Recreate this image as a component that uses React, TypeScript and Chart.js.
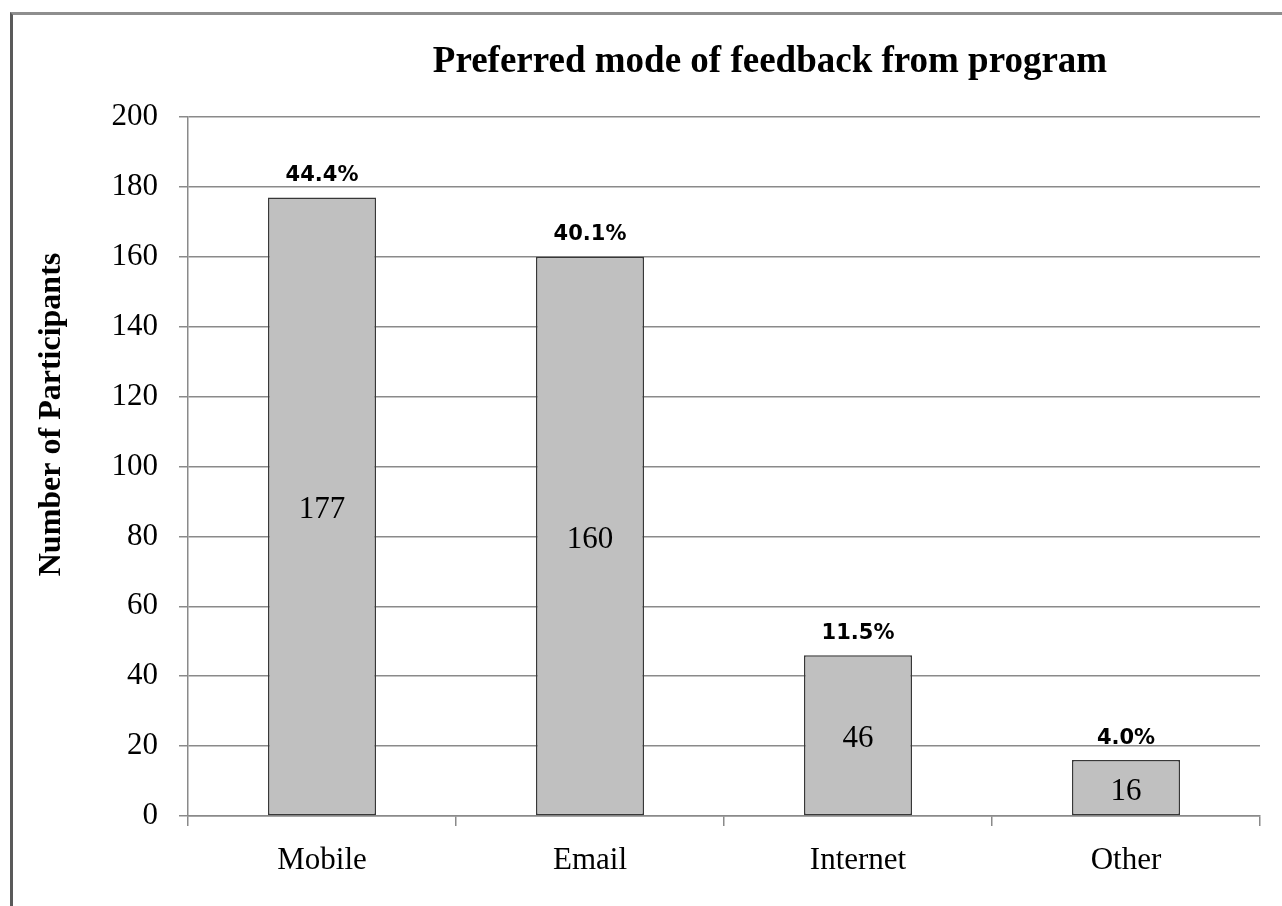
import React, { useEffect, useRef } from 'react';
import { Chart, registerables } from 'chart.js';

Chart.register(...registerables);

const categories = ['Mobile', 'Email', 'Internet', 'Other'];
const participants = [177, 160, 46, 16];
const percentLabels = ['44.4%', '40.1%', '11.5%', '4.0%'];
const yMin = 0;
const yMax = 200;
const yStep = 20;
const chartTitle = 'Preferred mode of feedback from program';
const yAxisTitle = 'Number of Participants';

const SERIF = '"Liberation Serif", "Times New Roman", serif';
const SANS = '"DejaVu Sans", Verdana, sans-serif';

const labelsPlugin = {
  id: 'customLabels',
  afterDatasetsDraw(chart: any) {
    const ctx = chart.ctx;
    const meta = chart.getDatasetMeta(0);
    ctx.save();
    ctx.textAlign = 'center';
    ctx.textBaseline = 'middle';
    meta.data.forEach((bar: any, i: number) => {
      const mid = (bar.y + bar.base) / 2;
      ctx.fillStyle = '#000';
      ctx.font = `31px ${SERIF}`;
      ctx.fillText(String(participants[i]), bar.x, mid + 4);
      ctx.font = `bold 21px ${SANS}`;
      ctx.fillText(percentLabels[i], bar.x, bar.y - 22);
    });
    ctx.restore();
  },
  afterDraw(chart: any) {
    const ctx = chart.ctx;
    const area = chart.chartArea;
    ctx.save();
    ctx.fillStyle = '#000';
    ctx.textAlign = 'center';
    ctx.textBaseline = 'alphabetic';
    ctx.font = `bold 37px ${SERIF}`;
    ctx.fillText(chartTitle, area.left + (area.right - area.left) / 2 + 46, 72);
    ctx.translate(52, area.top + (area.bottom - area.top) / 2 - 52);
    ctx.rotate(-Math.PI / 2);
    ctx.textBaseline = 'middle';
    ctx.font = `bold 32px ${SERIF}`;
    ctx.fillText(yAxisTitle, 0, 0);
    ctx.restore();
  },
};

export default function App() {
  const canvasRef = useRef<HTMLCanvasElement | null>(null);

  useEffect(() => {
    if (!canvasRef.current) return;
    const chart = new Chart(canvasRef.current, {
      type: 'bar',
      data: {
        labels: categories,
        datasets: [
          {
            data: participants,
            backgroundColor: '#C0C0C0',
            borderColor: '#383838',
            borderWidth: 1.5,
            borderSkipped: false,
            barPercentage: 0.403,
            categoryPercentage: 1,
          },
        ],
      },
      options: {
        responsive: false,
        animation: false,
        devicePixelRatio: 1,
        layout: { padding: { left: 0, top: 117, right: 22, bottom: 0 } },
        plugins: {
          legend: { display: false },
          title: { display: false },
          tooltip: { enabled: false },
        },
        scales: {
          x: {
            grid: {
              display: true,
              offset: true,
              drawOnChartArea: false,
              drawTicks: true,
              tickLength: 10,
              color: '#8a8a8a',
              lineWidth: 1.5,
            },
            border: { display: true, color: '#8a8a8a', width: 1.5 },
            ticks: {
              color: '#000',
              font: { family: SERIF, size: 31 },
              padding: 16,
            },
            afterFit(scale: any) {
              scale.height = 90;
            },
          },
          y: {
            min: yMin,
            max: yMax,
            grid: {
              color: '#8a8a8a',
              lineWidth: 1.5,
              tickLength: 9,
              drawTicks: true,
            },
            border: { display: true, color: '#8a8a8a', width: 1.5 },
            ticks: {
              stepSize: yStep,
              color: '#000',
              font: { family: SERIF, size: 31 },
              padding: 21,
            },
            afterFit(scale: any) {
              scale.width = 188;
            },
          },
        },
      },
      plugins: [labelsPlugin],
    });
    return () => chart.destroy();
  }, []);

  return (
    <div style={{ position: 'fixed', left: 0, top: 0, width: 1282, height: 906, background: '#fff', overflow: 'hidden' }}>
      <div
        style={{
          position: 'absolute',
          left: 10,
          top: 12,
          width: 1300,
          height: 920,
          borderLeft: '3px solid #5a5a5a',
          borderTop: '3px solid #8e8e8e',
          boxSizing: 'border-box',
        }}
      />
      <canvas ref={canvasRef} width={1282} height={906} style={{ position: 'absolute', left: 0, top: 0 }} />
    </div>
  );
}
